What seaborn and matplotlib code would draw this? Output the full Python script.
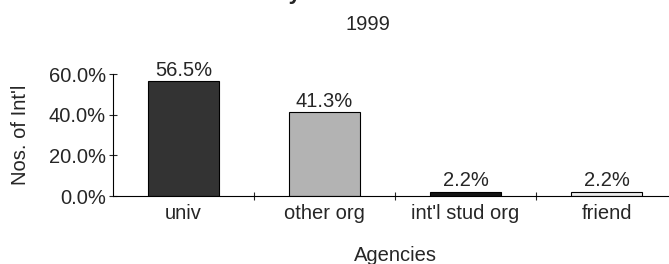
import matplotlib
matplotlib.use("Agg")
import matplotlib.pyplot as plt
from matplotlib.ticker import FuncFormatter, FixedLocator
import pandas as pd
import seaborn as sns

# chart data
agencies = ["univ", "other org", "int'l stud org", "friend"]
share_pct = [56.5, 41.3, 2.2, 2.2]
bar_colors = ["#333333", "#b3b3b3", "#141414", "#ececec"]

df = pd.DataFrame({"agency": agencies, "share": share_pct})

sns.set_style("white")
plt.rcParams["font.family"] = ["Liberation Sans", "DejaVu Sans"]

W, H = 669, 264
fig = plt.figure(figsize=(W / 100, H / 100), dpi=100)
# axes placed in pixel terms; right end runs past the canvas like the original
left, right, top, bottom = 113, 677, 74, 196
ax = fig.add_axes([left / W, 1 - bottom / H, (right - left) / W, (bottom - top) / H])

sns.barplot(data=df, x="agency", y="share", hue="agency", order=agencies,
            palette=dict(zip(agencies, bar_colors)), width=0.5,
            edgecolor="black", linewidth=0.8, legend=False, ax=ax)

fs = 14.5
for c in ax.containers:
    ax.bar_label(c, fmt="%.1f%%", padding=1, fontsize=fs)

ax.set_xlim(-0.5, 3.5)
ax.set_ylim(0, 60)
ax.set_yticks([0, 20, 40, 60])
ax.yaxis.set_major_formatter(FuncFormatter(lambda v, p: f"{v:.1f}%"))
ax.tick_params(axis="y", labelsize=fs, direction="inout", length=6, width=0.8, pad=2, left=True)
ax.tick_params(axis="x", which="major", labelsize=fs, length=0, pad=6)
ax.xaxis.set_minor_locator(FixedLocator([0.5, 1.5, 2.5]))
ax.tick_params(axis="x", which="minor", direction="inout", length=6, width=0.8, bottom=True)

for s in ["top", "right"]:
    ax.spines[s].set_visible(False)
for s in ["left", "bottom"]:
    ax.spines[s].set_color("black")
    ax.spines[s].set_linewidth(0.8)

ax.set_xlabel("Agencies", fontsize=fs)
ax.xaxis.set_label_coords(0.5, -(261 - 196) / (bottom - top))
ax.set_ylabel("Nos. of Int'l", fontsize=fs)
ax.yaxis.set_label_coords(-(113 - 21) / (right - left), 0.5)
ax.yaxis.label.set_va("center")
ax.xaxis.label.set_va("baseline")

fig.text(0.55, 1 - 24 / H, "1999", ha="center", va="center", fontsize=fs)
# title is cut off at the top edge in the original
fig.text(0.525, 1 + 1 / H, "How did you find the Institute", ha="center",
         va="baseline", fontsize=16, fontweight="bold")

fig.savefig("out.png", dpi=100)
